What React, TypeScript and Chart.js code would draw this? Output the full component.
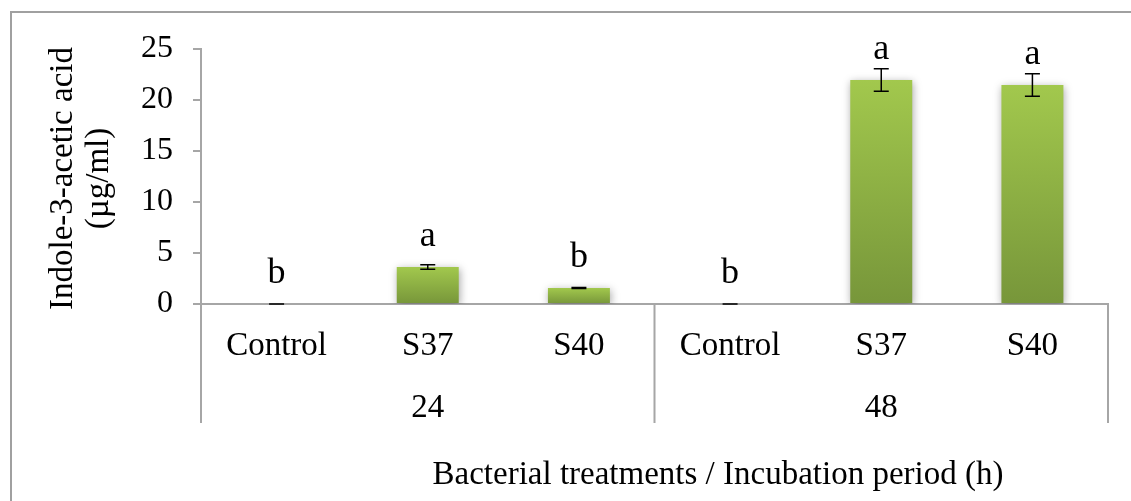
import React, { useEffect, useRef } from "react";
import { Chart, registerables } from "chart.js";

Chart.register(...registerables);

const categories = ["Control", "S37", "S40", "Control", "S37", "S40"];
const groups = ["24", "48"];
const groupSize = 3;
const means = [0, 3.63, 1.57, 0, 21.96, 21.47];
const errors = [0, 0.23, 0.05, 0, 1.1, 1.1];
const letters = ["b", "a", "b", "b", "a", "a"];
const yTicks = [0, 5, 10, 15, 20, 25];
const yTitle = ["Indole-3-acetic acid", "(µg/ml)"];
const xTitle = "Bacterial treatments / Incubation period (h)";

const FONT = "'Liberation Serif', 'Times New Roman', serif";
const GREY = "#a6a6a6";

export default function App() {
  const ref = useRef<HTMLCanvasElement | null>(null);

  useEffect(() => {
    document.body.style.margin = "0";
    const canvas = ref.current;
    if (!canvas) return;

    const overlay = {
      id: "overlay",
      beforeDraw(chart: any) {
        const ctx = chart.ctx;
        ctx.save();
        ctx.fillStyle = "#ffffff";
        ctx.fillRect(0, 0, chart.width, chart.height);
        ctx.strokeStyle = "#a0a0a0";
        ctx.lineWidth = 2;
        ctx.strokeRect(11, 12, chart.width + 20, chart.height + 20);
        ctx.restore();
      },
      beforeDatasetsDraw(chart: any) {
        const ctx = chart.ctx;
        ctx.save();
        ctx.shadowColor = "rgba(0,0,0,0.35)";
        ctx.shadowBlur = 8;
        ctx.shadowOffsetX = 1;
        ctx.shadowOffsetY = 2;
      },
      afterDatasetsDraw(chart: any) {
        const ctx = chart.ctx;
        ctx.restore();
        const xs = chart.scales.x;
        const ys = chart.scales.y;
        ctx.save();
        ctx.strokeStyle = "#000000";
        ctx.lineWidth = 1.5;
        means.forEach((m, i) => {
          const x = xs.getPixelForValue(i);
          const yt = ys.getPixelForValue(m + errors[i]);
          const yb = ys.getPixelForValue(m - errors[i]);
          ctx.beginPath();
          ctx.moveTo(x, yt);
          ctx.lineTo(x, yb);
          ctx.moveTo(x - 7.5, yt);
          ctx.lineTo(x + 7.5, yt);
          ctx.moveTo(x - 7.5, yb);
          ctx.lineTo(x + 7.5, yb);
          ctx.stroke();
        });
        ctx.fillStyle = "#000000";
        ctx.font = `36px ${FONT}`;
        ctx.textAlign = "center";
        ctx.textBaseline = "alphabetic";
        letters.forEach((l, i) => {
          const x = xs.getPixelForValue(i);
          const y = ys.getPixelForValue(means[i]);
          ctx.fillText(l, x, y - 21);
        });
        ctx.restore();
      },
      afterDraw(chart: any) {
        const ctx = chart.ctx;
        const xs = chart.scales.x;
        const area = chart.chartArea;
        const axisY = area.bottom;
        ctx.save();
        // separators
        ctx.strokeStyle = GREY;
        ctx.lineWidth = 2;
        const bounds: number[] = [area.left];
        for (let g = 1; g < groups.length; g++) {
          const a = xs.getPixelForValue(g * groupSize - 1);
          const b = xs.getPixelForValue(g * groupSize);
          bounds.push((a + b) / 2);
        }
        bounds.push(area.right);
        ctx.beginPath();
        bounds.forEach((bx) => {
          ctx.moveTo(bx, axisY);
          ctx.lineTo(bx, axisY + 119);
        });
        ctx.stroke();
        // category labels
        ctx.fillStyle = "#000000";
        ctx.textAlign = "center";
        ctx.textBaseline = "alphabetic";
        ctx.font = `33px ${FONT}`;
        categories.forEach((c, i) => {
          ctx.fillText(c, xs.getPixelForValue(i), axisY + 51);
        });
        groups.forEach((g, gi) => {
          ctx.fillText(g, (bounds[gi] + bounds[gi + 1]) / 2, axisY + 113);
        });
        ctx.fillText(xTitle, 718, axisY + 180);
        // y title
        ctx.save();
        ctx.translate(0, (area.top + area.bottom) / 2 + 2);
        ctx.rotate(-Math.PI / 2);
        ctx.fillText(yTitle[0], 0, 72);
        ctx.fillText(yTitle[1], 0, 108);
        ctx.restore();
        ctx.restore();
      },
    };

    const chart = new Chart(canvas, {
      type: "bar",
      data: {
        labels: categories,
        datasets: [
          {
            data: means,
            backgroundColor: (c: any) => {
              const ch = c.chart;
              if (!ch.chartArea) return "#8fb244";
              const ys = ch.scales.y;
              const v = typeof c.raw === "number" ? c.raw : 0;
              const top = ys.getPixelForValue(v);
              const base = ys.getPixelForValue(0);
              if (base - top < 1) return "#7b9b3d";
              const g = ch.ctx.createLinearGradient(0, top, 0, base);
              g.addColorStop(0, "#a2c84d");
              g.addColorStop(1, "#77963a");
              return g;
            },
            borderWidth: 0,
            barPercentage: 0.41,
            categoryPercentage: 1,
          },
        ],
      },
      options: {
        responsive: false,
        animation: false,
        events: [],
        layout: { padding: { top: 49, right: 23, bottom: 0, left: 0 } },
        plugins: {
          legend: { display: false },
          tooltip: { enabled: false },
          title: { display: false },
        },
        scales: {
          x: {
            type: "category",
            offset: true,
            ticks: { display: false },
            grid: { display: false },
            border: { display: true, color: GREY, width: 2 },
            afterFit: (s: any) => {
              s.height = 197;
            },
          },
          y: {
            min: 0,
            max: 25,
            afterBuildTicks: (s: any) => {
              s.ticks = yTicks.map((v) => ({ value: v }));
            },
            ticks: {
              color: "#000000",
              font: { family: FONT, size: 32 },
              padding: 20,
            },
            grid: {
              display: true,
              drawOnChartArea: false,
              drawTicks: true,
              tickLength: 8,
              color: GREY,
              lineWidth: 2,
            },
            border: { display: true, color: GREY, width: 2 },
            afterFit: (s: any) => {
              s.width = 201;
            },
          },
        },
      },
      plugins: [overlay],
    });

    return () => chart.destroy();
  }, []);

  return (
    <div style={{ width: 1131, height: 501 }}>
      <canvas ref={ref} width={1131} height={501} />
    </div>
  );
}
